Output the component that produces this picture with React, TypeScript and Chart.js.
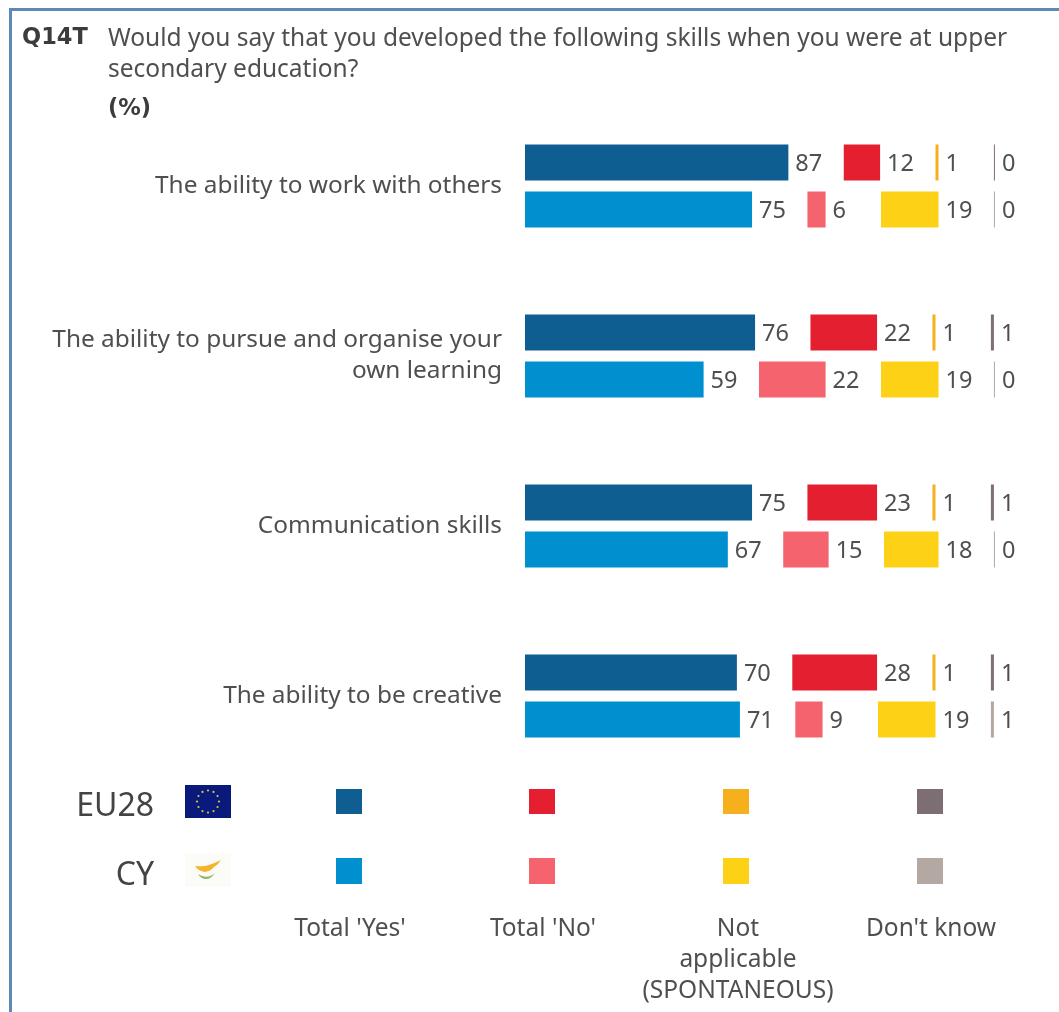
import React, { useEffect, useRef } from "react";
import { Chart, registerables } from "chart.js";

Chart.register(...registerables);

const categories = [
  "The ability to work with others",
  ["The ability to pursue and organise your", "own learning"],
  "Communication skills",
  "The ability to be creative",
];
const euYes = [87, 76, 75, 70];
const euNo = [12, 22, 23, 28];
const euNa = [1, 1, 1, 1];
const euDk = [0, 1, 1, 1];
const cyYes = [75, 59, 67, 71];
const cyNo = [6, 22, 15, 9];
const cyNa = [19, 19, 18, 19];
const cyDk = [0, 0, 0, 1];

const EU_COLORS = ["#0f5e91", "#e31f30", "#f6b01e", "#7d6e74"];
const CY_COLORS = ["#0090cf", "#f5636e", "#fdd116", "#b3a8a2"];
const LEGEND_LABELS = ["Total 'Yes'", "Total 'No'", "Not\napplicable\n(SPONTANEOUS)", "Don't know"];
const SERIES_NAMES = ["Total 'Yes'", "Total 'No'", "Not applicable (SPONTANEOUS)", "Don't know"];

const GAP = 18.3; // axis units left free for each value label
const FONT = '"Noto Sans", sans-serif';
const TEXT = "#4f4f4f";

function buildDatasets(prefix: string, stack: string, series: number[][], colors: string[]) {
  return series.map((values, s) => ({
    label: `${prefix} ${SERIES_NAMES[s]}`,
    stack,
    data: values.map((v, c) => {
      let start = s * GAP;
      for (let k = 0; k < s; k++) start += series[k][c];
      return [start, start + v];
    }),
    rawValues: values,
    backgroundColor: colors[s],
    minBarLength: 1,
    categoryPercentage: 0.553,
    barPercentage: 0.766,
  }));
}

const valueLabels = {
  id: "valueLabels",
  afterDatasetsDraw(chart: any) {
    const { ctx } = chart;
    ctx.save();
    ctx.font = `23.5px ${FONT}`;
    ctx.fillStyle = TEXT;
    ctx.textAlign = "left";
    ctx.textBaseline = "middle";
    chart.data.datasets.forEach((ds: any, i: number) => {
      chart.getDatasetMeta(i).data.forEach((el: any, j: number) => {
        ctx.fillText(String(ds.rawValues[j]), el.x + 7, el.y + 2);
      });
    });
    ctx.restore();
  },
};

const abs = (left: number, top: number, extra: React.CSSProperties = {}): React.CSSProperties => ({
  position: "absolute",
  left,
  top,
  whiteSpace: "pre",
  ...extra,
});

const SWATCH_X = [336, 529, 723, 917];
const LABEL_CX = [350, 543, 738, 931];
const STAR_ANGLES = [0, 30, 60, 90, 120, 150, 180, 210, 240, 270, 300, 330];

export default function App() {
  const ref = useRef<HTMLCanvasElement>(null);
  useEffect(() => {
    document.body.style.margin = "0";
    const chart = new Chart(ref.current!, {
      type: "bar",
      data: {
        labels: categories as any,
        datasets: [
          ...buildDatasets("EU28", "eu", [euYes, euNo, euNa, euDk], EU_COLORS),
          ...buildDatasets("CY", "cy", [cyYes, cyNo, cyNa, cyDk], CY_COLORS),
        ] as any,
      },
      options: {
        indexAxis: "y",
        animation: false,
        responsive: false,
        layout: { padding: { top: 101, bottom: 231, left: 0, right: 0 } },
        plugins: { legend: { display: false }, title: { display: false }, tooltip: { enabled: false } },
        scales: {
          x: { display: false, stacked: false, min: 0, max: 176.4 },
          y: {
            stacked: true,
            afterFit: (s: any) => {
              s.width = 525;
            },
            grid: { display: false, drawTicks: false },
            border: { display: false },
            ticks: {
              padding: 23,
              color: TEXT,
              font: { family: '"Noto Sans", sans-serif', size: 24.4, lineHeight: 1.27 },
            },
          },
        },
      },
      plugins: [valueLabels],
    });
    return () => chart.destroy();
  }, []);

  const base: React.CSSProperties = { fontFamily: FONT, color: TEXT, fontSize: 24.5, lineHeight: "31px" };
  const heading: React.CSSProperties = { fontFamily: '"DejaVu Sans", sans-serif', fontWeight: 700, fontSize: 22.5, color: "#3c3c3c" };
  const rowName: React.CSSProperties = { width: 154, textAlign: "right", fontSize: 32, lineHeight: "38px", color: "#444" };
  return (
    <div style={{ position: "relative", width: 1059, height: 1012, overflow: "hidden", background: "#fff", ...base }}>
      <canvas ref={ref} width={1059} height={1012} style={{ position: "absolute", left: 0, top: 0, display: "block" }} />
      <div style={{ position: "absolute", left: 9, top: 8, width: 1100, height: 1100, border: "3px solid #5f89b5", boxSizing: "border-box" }} />
      <div style={abs(22, 21, heading)}>Q14T</div>
      <div style={abs(108, 21)}>{"Would you say that you developed the following skills when you were at upper\nsecondary education?"}</div>
      <div style={abs(108, 92, heading)}>(%)</div>

      <div style={abs(0, 785, rowName)}>EU28</div>
      <div style={abs(0, 854, rowName)}>CY</div>

      <svg style={abs(185, 785)} width={46} height={33} viewBox="0 0 46 33">
        <rect width={46} height={33} fill="#0a1a7a" />
        {STAR_ANGLES.map((a) => (
          <circle key={a} cx={23 + 11 * Math.cos((a * Math.PI) / 180)} cy={16.5 + 11 * Math.sin((a * Math.PI) / 180)} r={1.1} fill="#d9c94a" />
        ))}
      </svg>
      <svg style={abs(185, 853)} width={46} height={34} viewBox="0 0 46 34">
        <rect width={46} height={34} fill="#fbfbf8" />
        <path d="M10 13 Q18 14 24 12 Q30 10 36 7 Q33 12 29 14 Q26 18 20 19 Q13 18 10 13 Z" fill="#f4b52a" />
        <path d="M13 21 Q22 27 30 20 Q26 26 21 26 Q16 26 13 21 Z" fill="#8fb96a" />
      </svg>

      {SWATCH_X.map((x, i) => (
        <React.Fragment key={x}>
          <div style={abs(x, 789, { width: 26, height: 25, background: EU_COLORS[i] })} />
          <div style={abs(x, 858, { width: 26, height: 26, background: CY_COLORS[i] })} />
          <div style={abs(LABEL_CX[i] - 120, 911, { width: 240, textAlign: "center" })}>{LEGEND_LABELS[i]}</div>
        </React.Fragment>
      ))}
    </div>
  );
}
